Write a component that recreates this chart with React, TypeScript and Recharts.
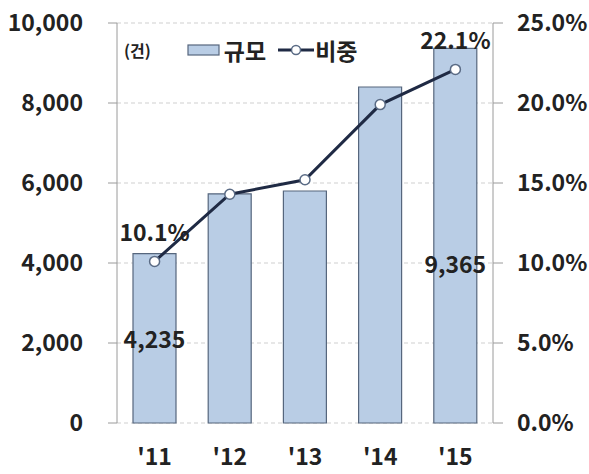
import { ComposedChart, Bar, Line, XAxis, YAxis, CartesianGrid, Legend, LabelList } from 'recharts';

const years = ["'11", "'12", "'13", "'14", "'15"];
const counts = [4235, 5730, 5800, 8400, 9365];
const shares = [10.1, 14.3, 15.2, 19.9, 22.1];
const countLabels = ['4,235', '', '', '', '9,365'];
const shareLabels = ['10.1%', '', '', '', '22.1%'];
const countTicks = [0, 2000, 4000, 6000, 8000, 10000];
const shareTicks = [0, 5, 10, 15, 20, 25];
const edgeTicks = [0, 1, 2, 3, 4, 5];

const data = years.map((year, i) => ({
  year,
  count: counts[i],
  share: shares[i],
  countLabel: countLabels[i],
  shareLabel: shareLabels[i],
}));

const font = '"Noto Sans CJK KR", "Noto Sans", sans-serif';
const tickStyle = { fontSize: 23, fontWeight: 700, fill: '#222', fontFamily: font };
const axisGray = '#9a9a9a';
const barFill = '#b9cde5';
const barStroke = '#56667d';
const lineColor = '#1f2a44';

function CountLabel(p: any) {
  if (!p.value) return null;
  const shift = p.index === 4 ? 27 : 0;
  return (
    <text x={p.x + p.width / 2} y={p.y + p.height / 2 + shift} textAnchor="middle"
      dominantBaseline="central" style={tickStyle}>
      {p.value}
    </text>
  );
}

function ShareLabel(p: any) {
  if (!p.value) return null;
  return (
    <text x={p.x} y={p.y - 30} textAnchor="middle" dominantBaseline="central" style={tickStyle}>
      {p.value}
    </text>
  );
}

function LegendBox() {
  return (
    <div style={{ display: 'flex', alignItems: 'center', fontFamily: font, fontWeight: 700, color: '#222' }}>
      <span style={{ fontSize: 16, marginRight: 36 }}>(건)</span>
      <svg width={34} height={14}>
        <rect x={1} y={2} width={31} height={10} fill={barFill} stroke={barStroke} strokeWidth={1.2} />
      </svg>
      <span style={{ fontSize: 23, marginLeft: 3, marginRight: 12 }}>규모</span>
      <svg width={36} height={14}>
        <line x1={0} y1={7} x2={36} y2={7} stroke={lineColor} strokeWidth={3} />
        <circle cx={18} cy={7} r={4.5} fill="#fff" stroke="#5a6b85" strokeWidth={1.5} />
      </svg>
      <span style={{ fontSize: 23, marginLeft: 1 }}>비중</span>
    </div>
  );
}

export default function App() {
  return (
    <div style={{ position: 'absolute', left: 0, top: 0, background: '#fff' }}>
      <ComposedChart width={589} height={474} data={data} margin={{ top: 23, right: 0, bottom: 0, left: 0 }}>
        <CartesianGrid vertical={false} yAxisId="left" xAxisId="cat" stroke="#cfcfcf" strokeDasharray="4 3" />
        <XAxis xAxisId="edge" type="number" domain={[0, 5]} ticks={edgeTicks} allowDataOverflow
          height={0} tick={() => <g />} tickSize={9} tickLine={{ stroke: axisGray }} axisLine={{ stroke: axisGray }} />
        <XAxis xAxisId="cat" dataKey="year" height={51} tickLine={false} axisLine={false}
          tickSize={0} tickMargin={26} tick={tickStyle} interval={0} />
        <YAxis yAxisId="left" domain={[0, 10000]} ticks={countTicks} width={117}
          tickFormatter={(v) => v.toLocaleString('en-US')} tick={tickStyle}
          tickSize={9} tickMargin={25} tickLine={{ stroke: axisGray }} axisLine={{ stroke: axisGray }} />
        <YAxis yAxisId="right" orientation="right" domain={[0, 25]} ticks={shareTicks} width={96}
          tickFormatter={(v) => `${Number(v).toFixed(1)}%`} tick={tickStyle}
          tickSize={10} tickMargin={14} tickLine={{ stroke: axisGray }} axisLine={{ stroke: axisGray }} />
        <Legend layout="vertical" align="center" verticalAlign="middle" content={<LegendBox />}
          wrapperStyle={{ left: 124, top: 33, width: 'auto' }} />
        <Bar xAxisId="cat" yAxisId="left" dataKey="count" barSize={43} fill={barFill}
          stroke={barStroke} strokeWidth={1.2} isAnimationActive={false}>
          <LabelList dataKey="countLabel" content={CountLabel} />
        </Bar>
        <Line xAxisId="cat" yAxisId="right" dataKey="share" stroke={lineColor} strokeWidth={3}
          dot={{ r: 5, fill: '#fff', stroke: '#5a6b85', strokeWidth: 1.5 }} isAnimationActive={false}>
          <LabelList dataKey="shareLabel" content={ShareLabel} />
        </Line>
      </ComposedChart>
    </div>
  );
}
